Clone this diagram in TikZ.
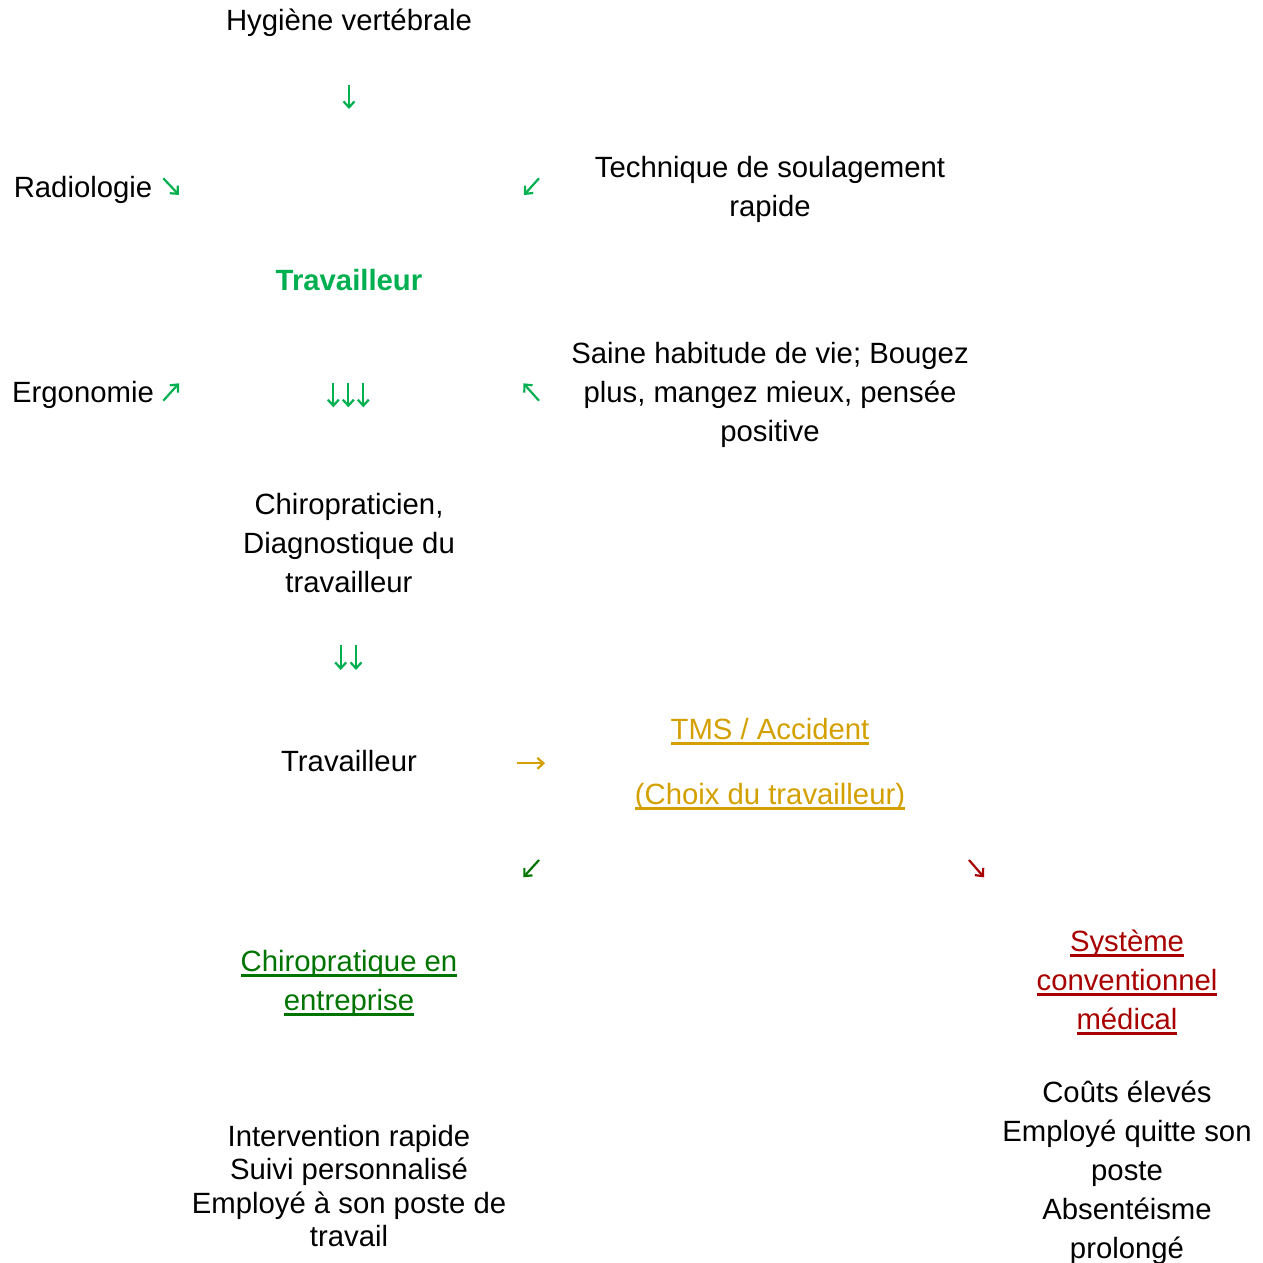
\documentclass[tikz,border=0pt]{standalone}
\usepackage{fontspec}
\setmainfont{Liberation Sans}
\usetikzlibrary{arrows.meta}

\newcommand\ulinetxt[1]{\setbox0\hbox{#1}\rlap{\rule[-5pt]{\wd0}{3pt}}\box0}

\begin{document}
\begin{tikzpicture}[x=1pt,y=-1pt]
  % Colors
  \definecolor{flowgreen}{HTML}{00B050}
  \definecolor{choicegreen}{HTML}{007400}
  \definecolor{choicegold}{HTML}{D4A000}
  \definecolor{choicered}{HTML}{A80000}

  % Styles (base = baseline of the last line)
  \tikzstyle{label text}=[font=\fontsize{29.3}{39}\selectfont,align=center,inner sep=0pt,anchor=base]
  \tikzstyle{tight text}=[label text,font=\fontsize{29.3}{33.3}\selectfont]
  \tikzstyle{flow arrow}=[line width=2.2pt,-{Straight Barb[length=6pt,width=11pt]}]

  \useasboundingbox (0,0) rectangle (1263,1263);

  % Upper part
  \node[label text] (hygiene) at (349,30.5) {Hygiène vertébrale};
  \node[label text] (radio) at (83,197.5) {Radiologie};
  \node[label text] (ergo) at (83,402.5) {Ergonomie};
  \node[label text] (technique) at (770,216.5) {Technique de soulagement\\rapide};
  \node[label text,font=\fontsize{29.3}{39}\selectfont\bfseries,text=flowgreen]
    (worker) at (349,290) {Travailleur};
  \node[label text] (habits) at (770,441.5)
    {Saine habitude de vie; Bougez\\plus, mangez mieux, pensée\\positive};
  \node[label text] (chiro) at (349,592.5) {Chiropraticien,\\Diagnostique du\\travailleur};
  \node[label text] (worker2) at (349,771.5) {Travailleur};

  % Choice
  \node[label text,text=choicegold] (tms) at (770,739.5) {\ulinetxt{TMS / Accident}};
  \node[label text,text=choicegold] (choice) at (770,804.5) {\ulinetxt{(Choix du travailleur)}};
  \node[label text,text=choicegreen] (company) at (349,1010.5)
    {\ulinetxt{Chiropratique en}\\\ulinetxt{entreprise}};
  \node[label text,text=choicered] (medical) at (1127,1029.5)
    {\ulinetxt{Système}\\\ulinetxt{conventionnel}\\\ulinetxt{médical}};
  \node[tight text] (pros) at (349,1246.5)
    {Intervention rapide\\Suivi personnalisé\\Employé à son poste de\\travail};
  \node[label text] (cons) at (1127,1258.5)
    {Coûts élevés\\Employé quitte son\\poste\\Absentéisme\\prolongé};

  % The arrows
  \coordinate (hyg-s) at (349,85);       \coordinate (hyg-e) at (349,109);
  \coordinate (radio-s) at (163.3,178.3); \coordinate (radio-e) at (179,195);
  \coordinate (tech-s) at (539,178.3);   \coordinate (tech-e) at (524,195);
  \coordinate (ergo-s) at (163.3,400.7); \coordinate (ergo-e) at (179,383.3);
  \coordinate (habits-s) at (539,400.7); \coordinate (habits-e) at (523.3,383.3);
  \coordinate (tms-s) at (517.3,763.3);  \coordinate (tms-e) at (545,763.3);
  \coordinate (left-s) at (539,860);     \coordinate (left-e) at (523.3,877.3);
  \coordinate (right-s) at (969,860);    \coordinate (right-e) at (984,877.3);

  \begin{scope}[flowgreen]
    \draw[flow arrow] (hyg-s) -- (hyg-e);
    \draw[flow arrow] (radio-s) -- (radio-e);
    \draw[flow arrow] (tech-s) -- (tech-e);
    \draw[flow arrow] (ergo-s) -- (ergo-e);
    \draw[flow arrow] (habits-s) -- (habits-e);
    \foreach \x in {333.3,348.3,363.3}
      \draw[flow arrow] (\x,382.7) -- (\x,407.3);
    \foreach \x in {340.7,356}
      \draw[flow arrow] (\x,645) -- (\x,670);
  \end{scope}

  \draw[flow arrow,choicegold] (tms-s) -- (tms-e);
  \draw[flow arrow,choicegreen] (left-s) -- (left-e);
  \draw[flow arrow,choicered] (right-s) -- (right-e);
\end{tikzpicture}
\end{document}
